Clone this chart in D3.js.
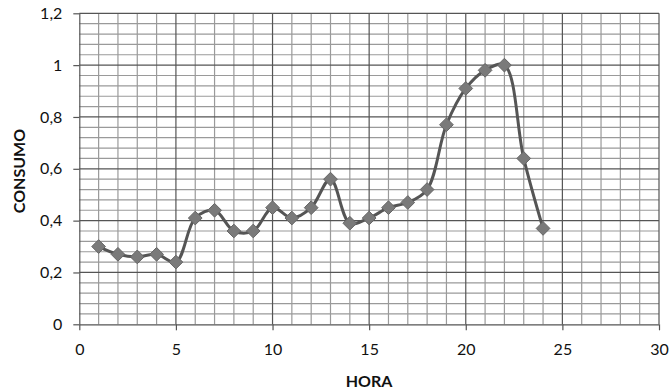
<!DOCTYPE html>
<html>
<head>
<meta charset="utf-8">
<script src="https://cdn.jsdelivr.net/npm/d3@7"></script>
<style>
  html, body { margin: 0; padding: 0; background: #fff; }
  svg { display: block; }
  text { font-family: Lato, "Open Sans", sans-serif; fill: #111; }
</style>
</head>
<body>
<svg id="chart" width="671" height="390"></svg>
<script>
// Hourly consumption
const hours = [1, 2, 3, 4, 5, 6, 7, 8, 9, 10, 11, 12, 13, 14, 15, 16, 17, 18, 19, 20, 21, 22, 23, 24];
const consumo = [0.30, 0.27, 0.26, 0.27, 0.24, 0.41, 0.44, 0.36, 0.36, 0.45, 0.41, 0.45, 0.56, 0.39, 0.41, 0.45, 0.47, 0.52, 0.77, 0.91, 0.98, 1.00, 0.64, 0.37];
const xTicks = [0, 5, 10, 15, 20, 25, 30];
const yTicks = [0, 0.2, 0.4, 0.6, 0.8, 1.0, 1.2];
const xTitle = "HORA";
const yTitle = "CONSUMO";

const svg = d3.select("#chart");
const plotL = 79.3, plotR = 659, plotT = 13.3, plotB = 324.3;

const x = d3.scaleLinear().domain([0, 30]).range([plotL, plotR]);
const y = d3.scaleLinear().domain([0, 1.2]).range([plotB, plotT]);
const fmt = v => d3.format("~g")(v).replace(".", ",");

// grid: minor lines every hour / 0.04, major every 5 h / 0.2
const g = svg.append("g");
const minorX = d3.range(1, 30).filter(v => v % 5 !== 0);
const minorY = d3.range(1, 30).filter(v => v % 5 !== 0).map(v => v * 0.04);
g.selectAll(".mx").data(minorX).join("line")
  .attr("x1", d => x(d)).attr("x2", d => x(d)).attr("y1", plotT).attr("y2", plotB)
  .attr("stroke", "#9a9a9a").attr("stroke-width", 1.2);
g.selectAll(".my").data(minorY).join("line")
  .attr("x1", plotL).attr("x2", plotR).attr("y1", d => y(d)).attr("y2", d => y(d))
  .attr("stroke", "#9a9a9a").attr("stroke-width", 1.2);
g.selectAll(".Mx").data(xTicks.slice(1)).join("line")
  .attr("x1", d => x(d)).attr("x2", d => x(d)).attr("y1", plotT).attr("y2", plotB)
  .attr("stroke", "#555").attr("stroke-width", 1.2);
g.selectAll(".My").data(yTicks.slice(1)).join("line")
  .attr("x1", plotL).attr("x2", plotR).attr("y1", d => y(d)).attr("y2", d => y(d))
  .attr("stroke", "#555").attr("stroke-width", 1.2);

// axes
const xAxis = d3.axisBottom(x).tickValues(xTicks).tickSize(6).tickPadding(13).tickFormat(fmt);
const yAxis = d3.axisLeft(y).tickValues(yTicks).tickSize(6).tickPadding(11).tickFormat(fmt);
const gx = svg.append("g").attr("transform", `translate(0,${plotB})`).call(xAxis);
const gy = svg.append("g").attr("transform", `translate(${plotL},0)`).call(yAxis);
[gx, gy].forEach(a => {
  a.select(".domain").attr("stroke", "#555").attr("stroke-width", 1.2);
  a.selectAll(".tick line").attr("stroke", "#555").attr("stroke-width", 1.2);
  a.selectAll(".tick text").style("font-size", "16px").attr("fill", "#111");
});
gx.select(".domain").attr("d", `M${plotL},0.5H${plotR}`);
gy.select(".domain").attr("d", `M0.5,${plotT}V${plotB}`);

// titles
svg.append("text").attr("x", 369).attr("y", 387).attr("text-anchor", "middle")
  .style("font-size", "16px").style("font-weight", "bold").text(xTitle);
svg.append("text").attr("transform", `translate(25,171) rotate(-90)`)
  .attr("text-anchor", "middle").style("font-size", "16px").style("font-weight", "bold").text(yTitle);

// smoothed line
const pts = hours.map((h, i) => [h, consumo[i]]);
const line = d3.line().x(d => x(d[0])).y(d => y(d[1])).curve(d3.curveCatmullRom.alpha(0.5));
svg.append("path").attr("d", line(pts)).attr("fill", "none")
  .attr("stroke", "#555").attr("stroke-width", 3);

// diamond markers
const diamond = d3.symbol().type(d3.symbolDiamond2).size(120);
svg.selectAll(".pt").data(pts).join("path")
  .attr("transform", d => `translate(${x(d[0])},${y(d[1])})`)
  .attr("d", diamond).attr("fill", "#7a7a7a").attr("stroke", "#666").attr("stroke-width", 1);
</script>
</body>
</html>
